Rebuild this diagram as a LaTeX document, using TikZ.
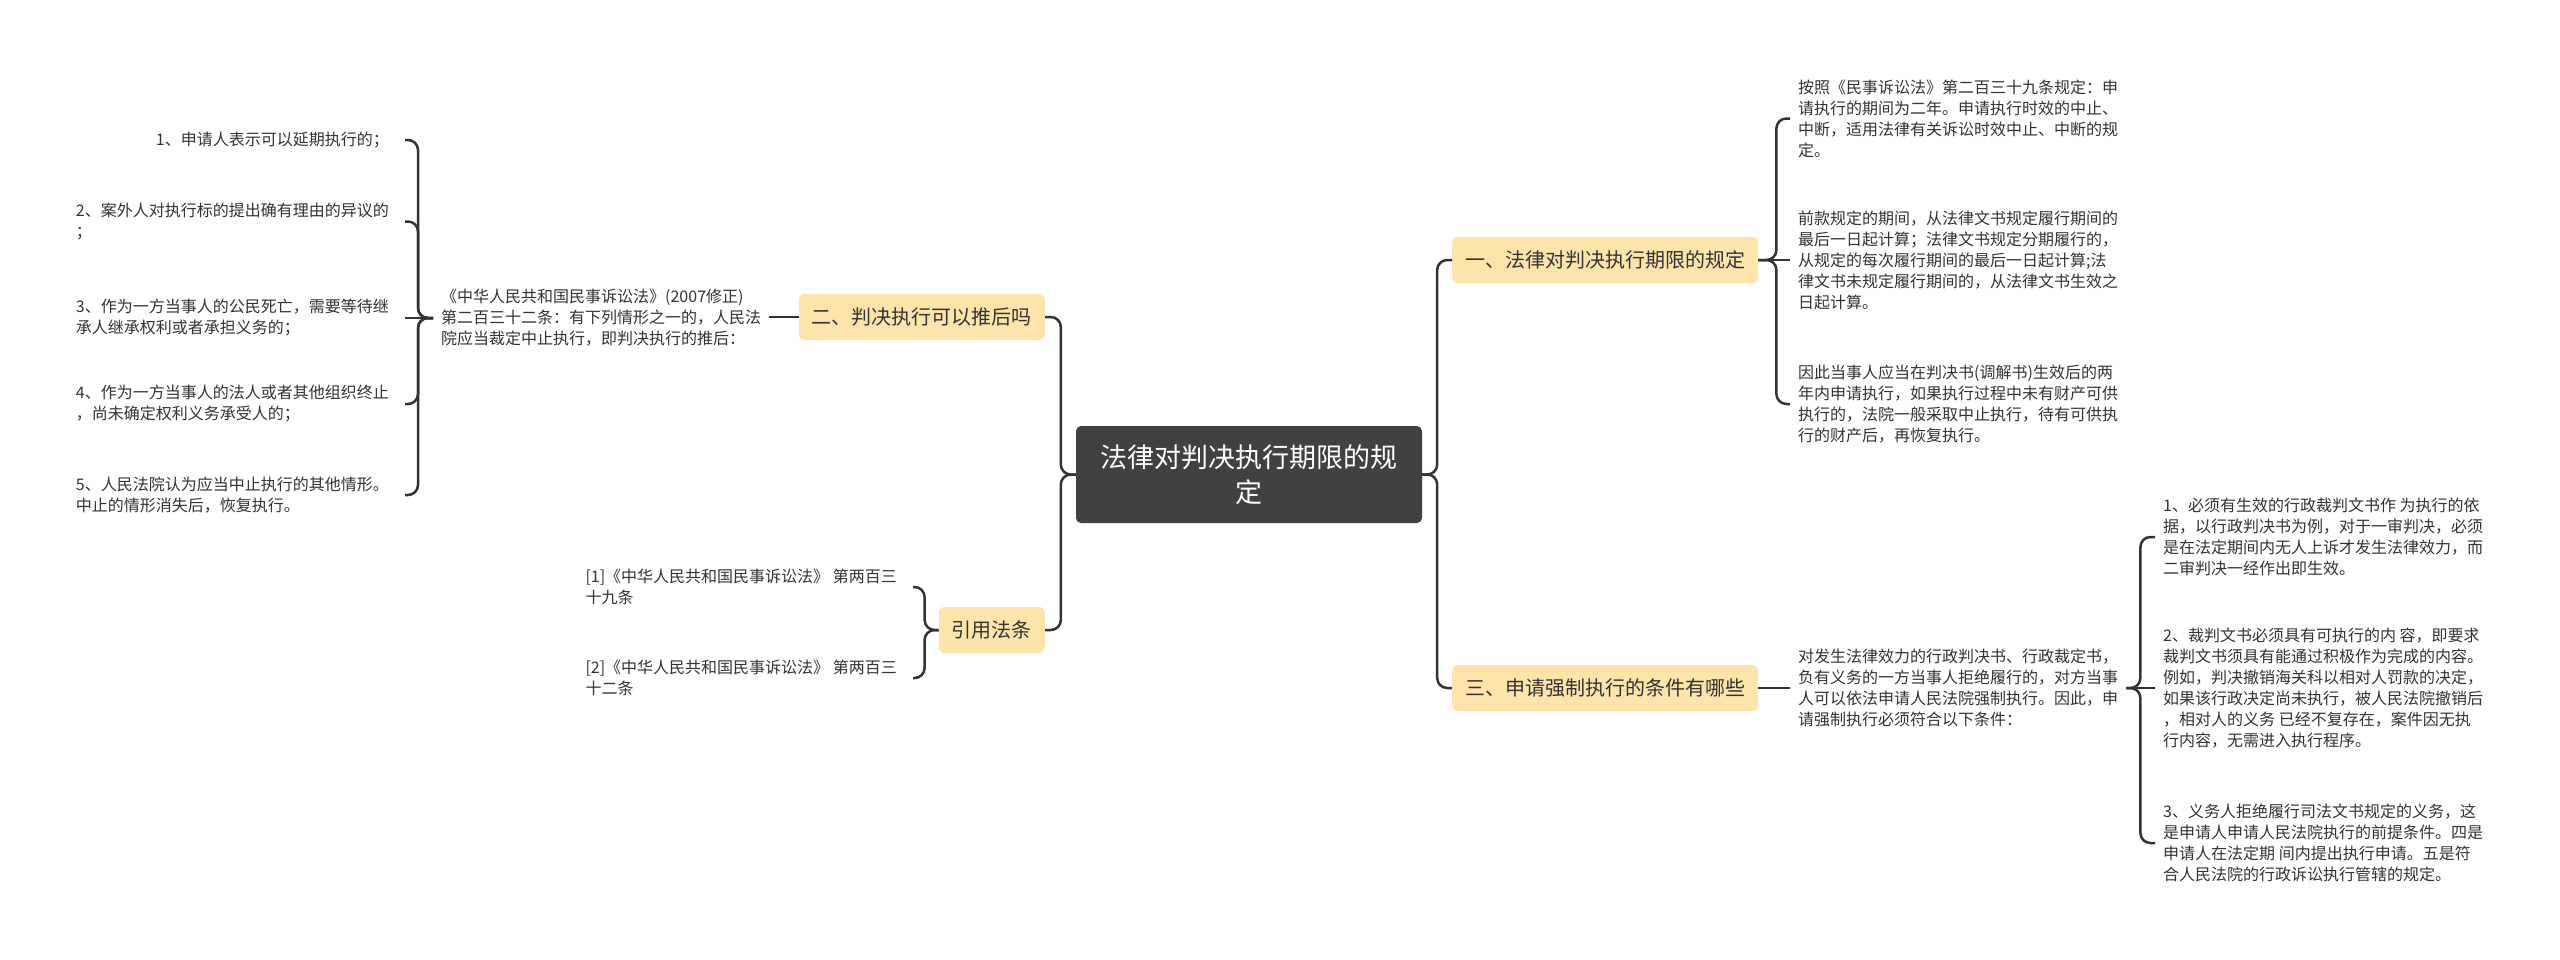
\documentclass[tikz,border=0pt]{standalone}
\usepackage{fontspec}
\newfontfamily\cjk{Noto Sans CJK SC}
\definecolor{linec}{HTML}{333333}
\definecolor{catfill}{HTML}{FCE4AA}
\definecolor{mainfill}{HTML}{414141}
\definecolor{txt}{HTML}{333333}
\begin{document}
\begin{tikzpicture}[x=1pt,y=-1pt,
  conn/.style={draw=linec, line width=2.5pt, rounded corners=10pt},
  detail/.style={font=\cjk\fontsize{16}{21}\selectfont, text=txt, inner xsep=8pt, inner ysep=2pt, align=left},
  detailL/.style={detail, inner xsep=16pt},
  cat/.style={font=\cjk\fontsize{20}{24}\selectfont, text=txt, fill=catfill, rounded corners=6pt, inner xsep=13pt, minimum height=46pt},
  mainnode/.style={font=\cjk\fontsize{27}{35}\selectfont, text=white, fill=mainfill, rounded corners=5pt, minimum width=346pt, minimum height=97pt, align=center}]
\fill[white] (0,0) rectangle (2560,959);
\useasboundingbox (0,0) rectangle (2560,959);

% main and category nodes
\node[mainnode] (main) at (1249,474.5) {法律对判决执行期限的规\\定};
\node[cat, anchor=east] (n2) at (1045,317) {二、判决执行可以推后吗};
\node[cat, anchor=east] (n4) at (1045,630) {引用法条};
\node[cat, anchor=west] (n1) at (1452,260) {一、法律对判决执行期限的规定};
\node[cat, anchor=west] (n3) at (1452,688) {三、申请强制执行的条件有哪些};

% left branch
\node[detail, anchor=west] (law) at (433,318) {《中华人民共和国民事诉讼法》(2007修正)\\第二百三十二条：有下列情形之一的，人民法\\院应当裁定中止执行，即判决执行的推后：};
\node[detailL, anchor=east] (a1) at (405,140) {1、申请人表示可以延期执行的；};
\node[detailL, anchor=east] (a2) at (405,221.5) {2、案外人对执行标的提出确有理由的异议的\\；};
\node[detailL, anchor=east] (a3) at (405,318) {3、作为一方当事人的公民死亡，需要等待继\\承人继承权利或者承担义务的；};
\node[detailL, anchor=east] (a4) at (405,404) {4、作为一方当事人的法人或者其他组织终止\\，尚未确定权利义务承受人的；};
\node[detailL, anchor=east] (a5) at (405,495) {5、人民法院认为应当中止执行的其他情形。\\中止的情形消失后，恢复执行。};

\node[detailL, anchor=east] (r1) at (913,587) {[1]《中华人民共和国民事诉讼法》 第两百三\\十九条};
\node[detailL, anchor=east] (r2) at (913,678) {[2]《中华人民共和国民事诉讼法》 第两百三\\十二条};

% right branch
\node[detail, anchor=west] (b1) at (1790,118.5) {按照《民事诉讼法》第二百三十九条规定：申\\请执行的期间为二年。申请执行时效的中止、\\中断，适用法律有关诉讼时效中止、中断的规\\定。};
\node[detail, anchor=west] (b2) at (1790,260) {前款规定的期间，从法律文书规定履行期间的\\最后一日起计算；法律文书规定分期履行的，\\从规定的每次履行期间的最后一日起计算;法\\律文书未规定履行期间的，从法律文书生效之\\日起计算。};
\node[detail, anchor=west] (b3) at (1790,404) {因此当事人应当在判决书(调解书)生效后的两\\年内申请执行，如果执行过程中未有财产可供\\执行的，法院一般采取中止执行，待有可供执\\行的财产后，再恢复执行。};

\node[detail, anchor=west] (c) at (1790,688) {对发生法律效力的行政判决书、行政裁定书，\\负有义务的一方当事人拒绝履行的，对方当事\\人可以依法申请人民法院强制执行。因此，申\\请强制执行必须符合以下条件：};

\node[detail, anchor=west] (d1) at (2155,537) {1、必须有生效的行政裁判文书作 为执行的依\\据，以行政判决书为例，对于一审判决，必须\\是在法定期间内无人上诉才发生法律效力，而\\二审判决一经作出即生效。};
\node[detail, anchor=west] (d2) at (2155,688) {2、裁判文书必须具有可执行的内 容，即要求\\裁判文书须具有能通过积极作为完成的内容。\\例如，判决撤销海关科以相对人罚款的决定，\\如果该行政决定尚未执行，被人民法院撤销后\\，相对人的义务 已经不复存在，案件因无执\\行内容，无需进入执行程序。};
\node[detail, anchor=west] (d3) at (2155,843) {3、义务人拒绝履行司法文书规定的义务，这\\是申请人申请人民法院执行的前提条件。四是\\申请人在法定期 间内提出执行申请。五是符\\合人民法院的行政诉讼执行管辖的规定。};

% connectors
\draw[conn] (main.west) -- ++(-15,0) |- (n2.east);
\draw[conn] (main.west) -- ++(-15,0) |- (n4.east);
\draw[conn] (main.east) -- ++(15,0) |- (n1.west);
\draw[conn] (main.east) -- ++(15,0) |- (n3.west);

\draw[conn] (n2.west) -- (n2.west -| law.east);
\foreach \t in {a1,a2,a4,a5}{\draw[conn] (law.west) -- ++(-15,0) |- (\t.east);}
\draw[conn] (law.west) -- (a3.east);

\draw[conn] (n4.west) -- ++(-14,0) |- (r1.east);
\draw[conn] (n4.west) -- ++(-14,0) |- (r2.east);

\draw[conn] (n1.east) -- ++(18,0) |- (b1.west);
\draw[conn] (n1.east) -- (b2.west);
\draw[conn] (n1.east) -- ++(18,0) |- (b3.west);

\draw[conn] (n3.east) -- (c.west);
\draw[conn] (c.east) -- ++(14,0) |- (d1.west);
\draw[conn] (c.east) -- (d2.west);
\draw[conn] (c.east) -- ++(14,0) |- (d3.west);
\end{tikzpicture}
\end{document}
